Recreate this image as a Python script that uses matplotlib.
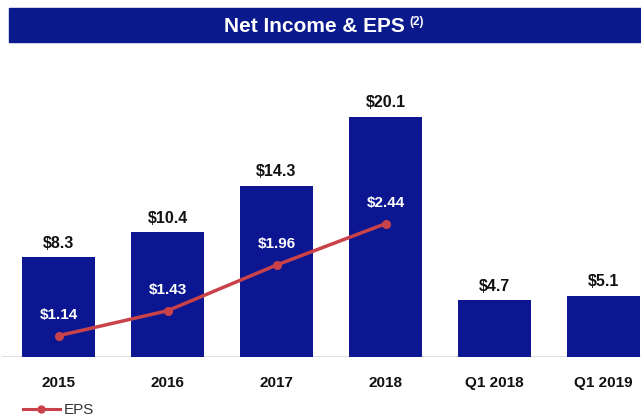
import matplotlib
matplotlib.use("Agg")
import matplotlib.pyplot as plt
from matplotlib.patches import Rectangle
from matplotlib.lines import Line2D

plt.rcParams['font.family'] = ['Liberation Sans', 'DejaVu Sans']

categories = ["2015", "2016", "2017", "2018", "Q1 2018", "Q1 2019"]
net_income = [8.3, 10.4, 14.3, 20.1, 4.7, 5.1]
income_labels = ["$8.3", "$10.4", "$14.3", "$20.1", "$4.7", "$5.1"]
eps_categories = ["2015", "2016", "2017", "2018"]
eps = [1.14, 1.43, 1.96, 2.44]
eps_labels = ["$1.14", "$1.43", "$1.96", "$2.44"]

BAR = "#0b1690"
RED = "#c9424a"
W, H = 641, 420

fig = plt.figure(figsize=(W / 100, H / 100), dpi=100)
fig.patch.set_facecolor("white")

# title band
fig.patches.append(Rectangle((9 / W, 1 - 42 / H), 1 - 9 / W, 34 / H,
                             transform=fig.transFigure, color="#0a1a8c", zorder=0))
fig.text(405 / W, 1 - 26.5 / H, "Net Income & EPS", color="white", fontsize=15,
         fontweight="bold", ha="right", va="center")
fig.text(409 / W, 1 - 21.5 / H, "(2)", color="white", fontsize=8.5,
         fontweight="bold", ha="left", va="center")

top_px, base_px = 60, 356.5
ax = fig.add_axes([0, 1 - base_px / H, 1, (base_px - top_px) / H])
x = list(range(len(categories)))
ax.bar(x, net_income, width=0.67, color=BAR, zorder=2)
ax.set_xlim((0 - 58.5) / 109, (W - 58.5) / 109)
ax.set_ylim(0, (base_px - top_px) / 11.94)
for xi, v, lab in zip(x, net_income, income_labels):
    ax.annotate(lab, (xi, v), xytext=(0, 14), textcoords="offset pixels",
                ha="center", va="center", fontsize=11.5, fontweight="bold", color="#111111")
for s in ax.spines.values():
    s.set_visible(False)
ax.axhline(0, color="#d9d9d9", lw=1.2, zorder=1, xmin=3 / W)
ax.set_yticks([])
ax.set_xticks(x)
ax.set_xticklabels(categories, fontsize=11, fontweight="bold", color="#111111")
ax.tick_params(axis="x", length=0, pad=14)

ax2 = ax.twinx()
ax2.set_ylim((434 - base_px) / 86.2, (434 - top_px) / 86.2)
ex = [categories.index(c) for c in eps_categories]
ax2.plot(ex, eps, color=RED, lw=2.5, marker="o", ms=5.5, zorder=3)
for xi, v, lab in zip(ex, eps, eps_labels):
    ax2.annotate(lab, (xi, v), xytext=(0, 21), textcoords="offset pixels",
                 ha="center", va="center", fontsize=11, fontweight="bold", color="white")
ax2.set_yticks([])
for s in ax2.spines.values():
    s.set_visible(False)

# legend
handle = Line2D([], [], color=RED, lw=2.2, marker="o", ms=5)
fig.legend([handle], ["EPS"], loc="center left", bbox_to_anchor=(23 / W, 1 - 410 / H),
           frameon=False, fontsize=11, handlelength=2.4, handletextpad=0.25,
           labelcolor="#333333", borderaxespad=0, borderpad=0)

fig.savefig("out.png", dpi=100, facecolor="white")
